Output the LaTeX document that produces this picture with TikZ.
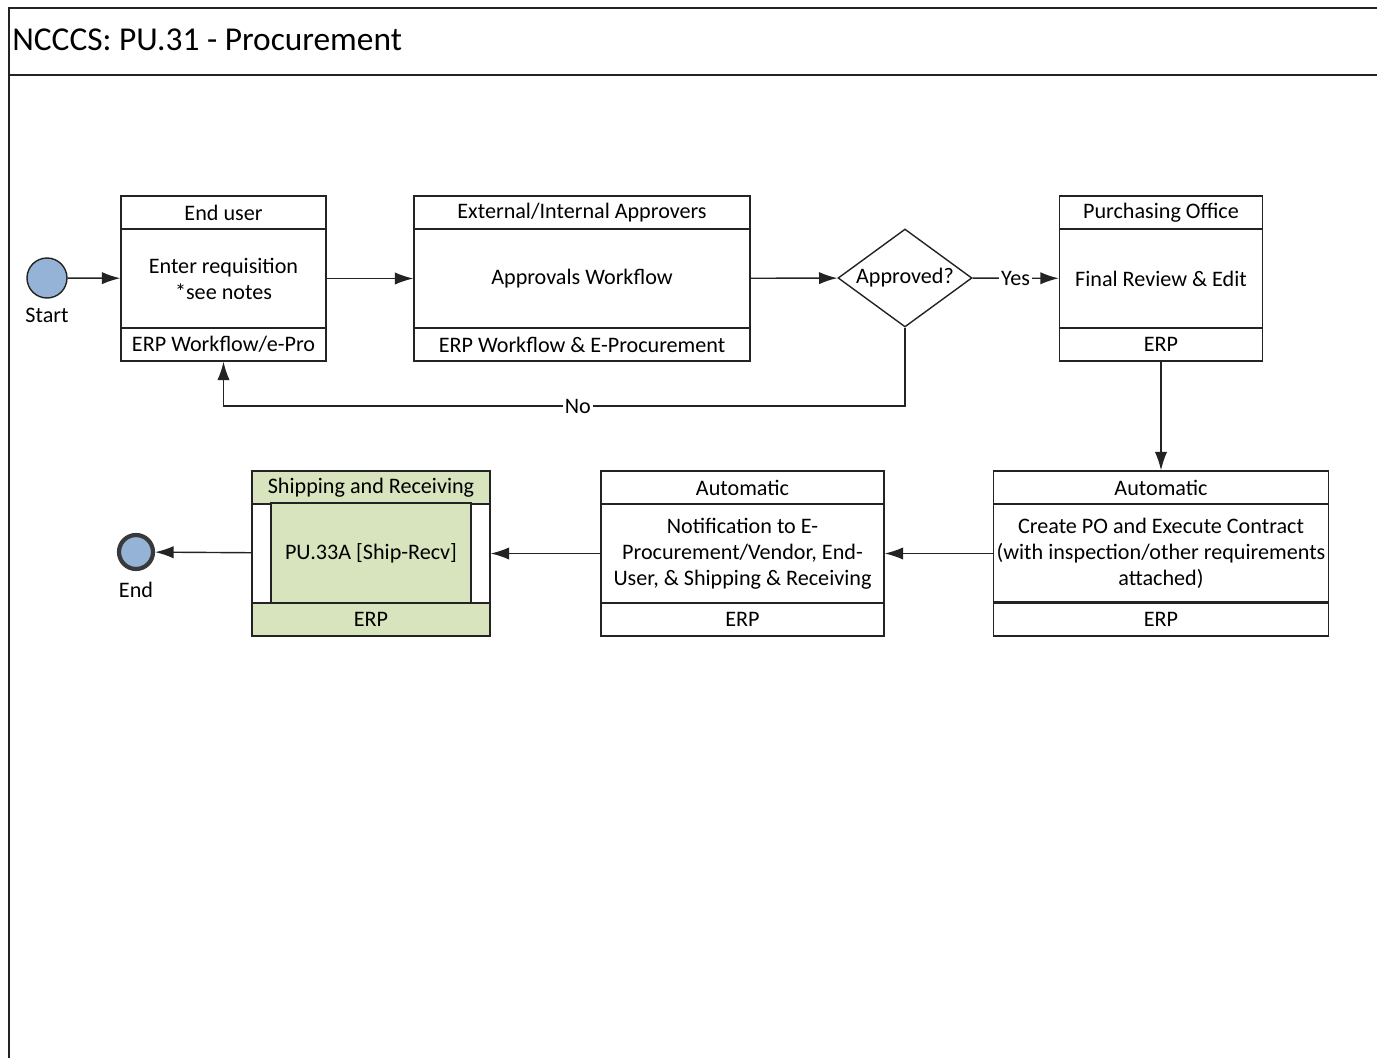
\documentclass[tikz,border=0pt]{standalone}
\usepackage{fontspec}
\setmainfont{Carlito}
\usetikzlibrary{arrows.meta,shapes.geometric,positioning}

\definecolor{termblue}{RGB}{149,179,215}
\definecolor{subgreen}{RGB}{215,228,189}
\definecolor{edgegrey}{RGB}{35,35,35}

\tikzset{
  txt/.style={font=\fontsize{12.6}{14.8}\selectfont},
  procbox/.style={txt, draw=edgegrey, line width=0.8pt, fill=white, minimum height=3.3cm, align=center, inner sep=1pt},
  lanehead/.style={txt, draw=edgegrey, line width=0.8pt, minimum height=0.66cm, inner sep=0pt},
  flow/.style={draw=edgegrey, line width=0.8pt, -{Latex[length=10.5pt,width=7pt]}},
  yesno/.style={txt, fill=white, inner sep=1pt},
}

\begin{document}
\begin{tikzpicture}[x=0.02cm,y=-0.02cm]
   \useasboundingbox (0,0) rectangle (1377,1058);
   % frame and title bar
   \draw [edgegrey,line width=1.6pt] (9,1058) -- (9,8) -- (1377,8);
   \draw [edgegrey,line width=1.2pt] (9,75) -- (1377,75);
   \node [anchor=west,font=\fontsize{19}{22}\selectfont,inner sep=0pt] (title) at (12,40) {NCCCS: PU.31 - Procurement};

   % top row
   \node [circle,draw=edgegrey,line width=0.8pt,fill=termblue,minimum size=0.8cm,inner sep=0pt] (start) at (47,278) {};
   \node [txt,below=2pt of start] (startlbl) {Start};

   \node [procbox,minimum width=4.1cm] (enter) at (223.5,278.5) {Enter requisition\\*see notes};
   \node [lanehead,minimum width=4.1cm,anchor=north] (enterhd) at (enter.north) {End user};
   \node [lanehead,minimum width=4.1cm,anchor=south] (enterft) at (enter.south) {ERP Workflow/e-Pro};

   \node [procbox,minimum width=6.72cm] (approve) at (582,278.5) {Approvals Workflow};
   \node [lanehead,minimum width=6.72cm,anchor=north] (approvehd) at (approve.north) {External/Internal Approvers};
   \node [lanehead,minimum width=6.72cm,anchor=south] (approveft) at (approve.south) {ERP Workflow \& E-Procurement};

   \node [diamond,aspect=1.37,txt,draw=edgegrey,line width=0.8pt,minimum width=2.68cm,minimum height=1.96cm,inner sep=0pt] (decide) at (905,278) {Approved?};

   \node [procbox,minimum width=4.06cm] (final) at (1161,278.5) {Final Review \& Edit};
   \node [lanehead,minimum width=4.06cm,anchor=north] (finalhd) at (final.north) {Purchasing Office};
   \node [lanehead,minimum width=4.06cm,anchor=south] (finalft) at (final.south) {ERP};

   % bottom row
   \node [procbox,minimum width=6.7cm] (create) at (1161,553.5) {Create PO and Execute Contract\\(with inspection/other requirements\\attached)};
   \node [lanehead,minimum width=6.7cm,anchor=north] (createhd) at (create.north) {Automatic};
   \node [lanehead,minimum width=6.7cm,anchor=south] (createft) at (create.south) {ERP};
   \draw [edgegrey,line width=1.6pt] (createft.north west) -- (createft.north east);

   \node [procbox,minimum width=5.66cm] (notify) at (742.5,553.5) {Notification to E-\\Procurement/Vendor, End-\\User, \& Shipping \& Receiving};
   \node [lanehead,minimum width=5.66cm,anchor=north] (notifyhd) at (notify.north) {Automatic};
   \node [lanehead,minimum width=5.66cm,anchor=south] (notifyft) at (notify.south) {ERP};

   \node [procbox,minimum width=4.76cm] (shiprecv) at (371,553.5) {};
   \node [lanehead,fill=subgreen,minimum width=4.76cm,anchor=north] (shiprecvhd) at (shiprecv.north) {Shipping and Receiving};
   \node [lanehead,fill=subgreen,minimum width=4.76cm,anchor=south] (shiprecvft) at (shiprecv.south) {ERP};
   \node [lanehead,fill=subgreen,minimum width=4cm,minimum height=2cm] (subproc) at (371,553) {PU.33A [Ship-Recv]};

   \node [circle,draw=edgegrey!90,line width=2.4pt,fill=termblue,minimum size=0.68cm,inner sep=0pt] (end) at (136,552) {};
   \node [txt,below=3pt of end] (endlbl) {End};

   % connectors
   \coordinate (noturn) at (905,406);
   \draw [flow] (start) -- (enter);
   \draw [flow] (enter) -- (approve);
   \draw [flow] (approve) -- (decide);
   \draw [flow] (decide) -- node [yesno] {Yes} (final);
   \draw [flow] (decide.south) -- (noturn) -| node [yesno,pos=0.24] {No} (enter.south);
   \draw [flow] (final) -- (create);
   \draw [flow] (create) -- (notify);
   \draw [flow] (notify) -- (shiprecv);
   \draw [flow] (shiprecv) -- (end);
\end{tikzpicture}
\end{document}
